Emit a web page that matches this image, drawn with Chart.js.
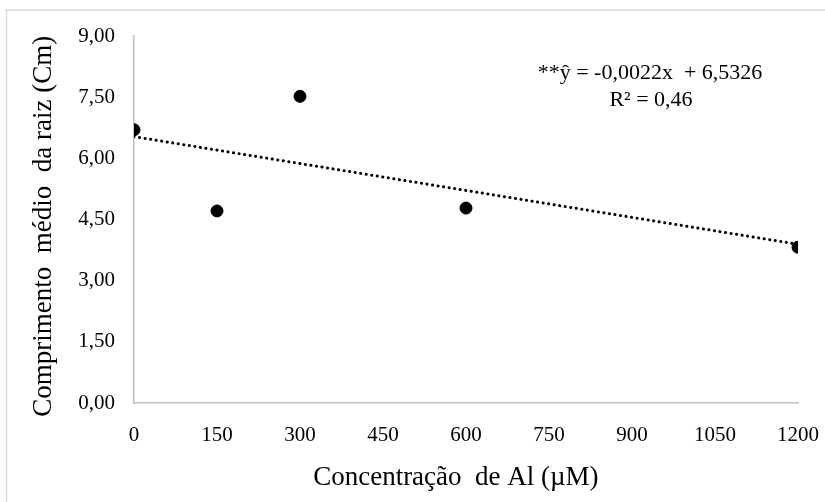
<!DOCTYPE html>
<html>
<head>
<meta charset="utf-8">
<script src="https://cdn.jsdelivr.net/npm/chart.js@4/dist/chart.umd.min.js"></script>
<style>
  html, body { margin: 0; padding: 0; background: #fff; }
</style>
</head>
<body>
<canvas id="chart" width="825" height="502"></canvas>
<script>
// Al concentration (µM) and mean root length (cm)
const concentrations = [0, 150, 300, 600, 1200];
const rootLength = [6.70, 4.71, 7.52, 4.78, 3.82];

// fitted line: y = -0.0022x + 6.5326
const slope = -0.0022;
const intercept = 6.5326;
const trendX = [0, 1200];

const equationLines = ['**ŷ = -0,0022x  + 6,5326', 'R² = 0,46'];

const serif = "'Liberation Serif', 'Times New Roman', serif";

const fmtComma = (v, d) => v.toFixed(d).replace('.', ',');

const frame = {
    id: 'frame',
    beforeDraw(chart) {
        const ctx = chart.ctx;
        ctx.save();
        ctx.fillStyle = '#fff';
        ctx.fillRect(0, 0, chart.width, chart.height);
        // outer frame only shows on the top and left
        ctx.strokeStyle = '#d9d9d9';
        ctx.lineWidth = 1.5;
        ctx.beginPath();
        ctx.moveTo(6.5, chart.height);
        ctx.lineTo(6.5, 10);
        ctx.lineTo(chart.width, 10);
        ctx.stroke();
        ctx.restore();
    },
    afterDraw(chart) {
        const ctx = chart.ctx;
        ctx.save();
        ctx.font = '22px ' + serif;
        ctx.fillStyle = '#000';
        ctx.textAlign = 'center';
        ctx.textBaseline = 'middle';
        ctx.fillText(equationLines[0], 650, 73);
        ctx.fillText(equationLines[1], 651, 100);
        ctx.restore();
    }
};

new Chart(document.getElementById('chart'), {
    type: 'scatter',
    data: {
        datasets: [
            {
                label: 'Comprimento',
                data: concentrations.map((x, i) => ({ x: x, y: rootLength[i] })),
                backgroundColor: '#000',
                borderColor: '#000',
                pointRadius: 6,
                order: 1
            },
            {
                label: 'Linear',
                type: 'line',
                data: trendX.map(x => ({ x: x, y: slope * x + intercept })),
                borderColor: '#000',
                borderWidth: 3,
                borderDash: [0.1, 5.5],
                borderCapStyle: 'round',
                pointRadius: 0,
                fill: false,
                order: 2
            }
        ]
    },
    options: {
        responsive: false,
        animation: false,
        layout: { padding: { left: 0, right: 27, top: 36, bottom: 0 } },
        plugins: {
            legend: { display: false },
            tooltip: { enabled: false }
        },
        scales: {
            x: {
                type: 'linear',
                min: 0,
                max: 1200,
                ticks: {
                    stepSize: 150,
                    color: '#000',
                    padding: 20,
                    font: { family: serif, size: 21 },
                    callback: v => String(v)
                },
                grid: { display: false, drawTicks: false },
                border: { display: true, color: '#bfbfbf', width: 1.5 },
                title: {
                    display: true,
                    text: 'Concentração  de Al (µM)   ',
                    color: '#000',
                    font: { family: serif, size: 27 },
                    padding: { top: 0, bottom: 8 }
                },
                afterFit: s => { s.height = 99; s.paddingLeft = 0; s.paddingRight = 0; }
            },
            y: {
                min: 0,
                max: 9,
                ticks: {
                    stepSize: 1.5,
                    color: '#000',
                    padding: 19,
                    font: { family: serif, size: 21 },
                    callback: v => fmtComma(v, 2)
                },
                grid: { display: false, drawTicks: false },
                border: { display: true, color: '#bfbfbf', width: 1.5 },
                title: {
                    display: true,
                    text: 'Comprimento  médio  da raiz (Cm)  ',
                    color: '#000',
                    font: { family: serif, size: 27 },
                    padding: { top: 28, bottom: 0 }
                },
                afterFit: s => { s.width = 134; s.paddingTop = 0; s.paddingBottom = 0; }
            }
        }
    },
    plugins: [frame]
});
</script>
</body>
</html>
